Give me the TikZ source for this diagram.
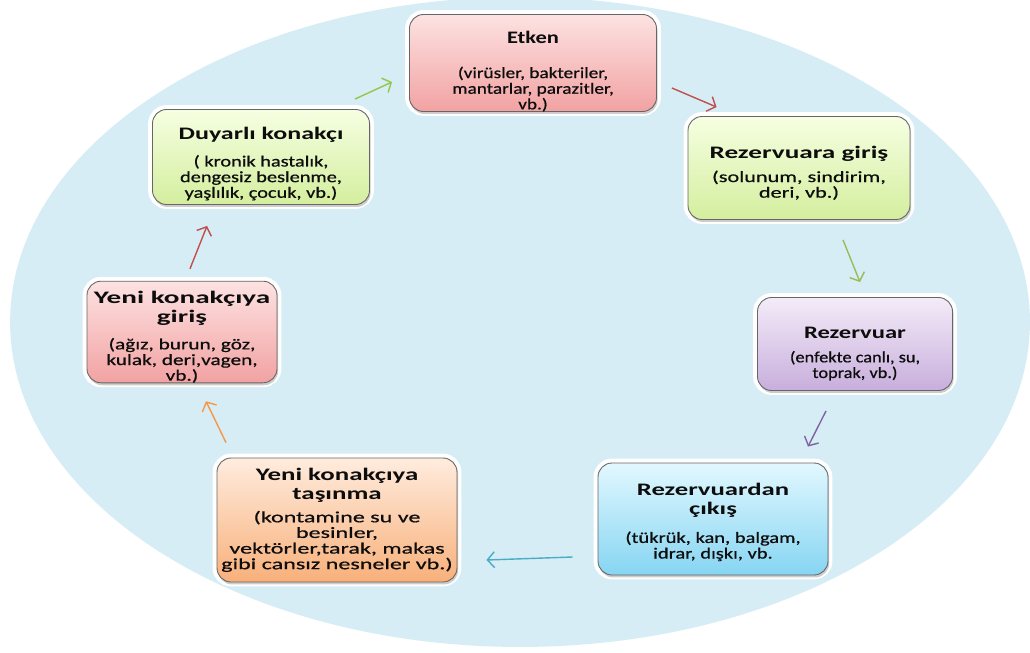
\documentclass[tikz,border=0pt]{standalone}
\usepackage{fontspec}
\setmainfont{Carlito}
\newfontfamily\bodyfont{Carlito}[FakeBold=0.7]
\usetikzlibrary{arrows.meta, shadows}

\definecolor{ovalblue}{HTML}{D7EDF6}
\definecolor{pinktop}{HTML}{FDE2E2}
\definecolor{pinkbot}{HTML}{F2A2A2}
\definecolor{greentop}{HTML}{F6FFE2}
\definecolor{greenbot}{HTML}{D4EE9E}
\definecolor{lilactop}{HTML}{F4ECF9}
\definecolor{lilacbot}{HTML}{C8AEDC}
\definecolor{bluetop}{HTML}{E2F8FF}
\definecolor{bluebot}{HTML}{86D5F2}
\definecolor{orangetop}{HTML}{FFECDE}
\definecolor{orangebot}{HTML}{F8B07A}

\newcommand\titlestretch{1.3}
\newcommand\stagetitle{\normalfont\fontsize{10}{11.3}\selectfont\bfseries
    \addfontfeatures{FakeStretch=\titlestretch}}

\begin{document}
\begin{tikzpicture}[x=0.02cm, y=-0.02cm,
    stage/.style 2 args={rounded corners=8pt, draw=black!60, line width=0.5pt,
        align=center, inner sep=0pt, text=black!95,
        font=\renewcommand\titlestretch{#1}\fontsize{8.9}{8.9}\bodyfont
            \addfontfeatures{FakeStretch=#2},
        preaction={draw=white, line width=5pt},
        drop shadow={shadow xshift=0.6pt, shadow yshift=-1.4pt, opacity=0.4}},
    arr/.style={-{Straight Barb[length=4pt, width=9pt]}, line width=0.8pt}]

    % Page and the blue oval
    \path[use as bounding box] (0,0) rectangle (1030,652);
    \clip (0,0) rectangle (1030,652);
    \fill[white] (0,0) rectangle (1030,652);
    \fill[ovalblue] (520,322) ellipse [x radius=10.2cm, y radius=6.5cm];

    % The seven stages of the chain
    \node[stage={1.28}{1.23}, top color=pinktop, bottom color=pinkbot,
        minimum width=247*0.02cm, minimum height=90*0.02cm] (etken) at (533,63)
        {{\stagetitle\rule{0pt}{16.6pt}Etken}\\[10.7pt](virüsler, bakteriler,\\mantarlar, parazitler,\\vb.)};
    \node[stage={1.55}{1.42}, top color=greentop, bottom color=greenbot,
        minimum width=222*0.02cm, minimum height=103*0.02cm] (rezgiris) at (799,168)
        {{\stagetitle\rule{0pt}{12.7pt}Rezervuara giriş}\\[4.5pt](solunum, sindirim,\\deri, vb.)};
    \node[stage={1.4}{1.17}, top color=lilactop, bottom color=lilacbot,
        minimum width=195*0.02cm, minimum height=93*0.02cm] (rezervuar) at (855,344)
        {{\stagetitle\rule{0pt}{17.8pt}Rezervuar}\\[4.5pt](enfekte canlı, su,\\toprak, vb.)};
    \node[stage={1.52}{1.31}, top color=bluetop, bottom color=bluebot,
        minimum width=230*0.02cm, minimum height=112*0.02cm] (rezcikis) at (713,519)
        {{\stagetitle\rule{0pt}{10.4pt}Rezervuardan}\\[2pt]{\stagetitle çıkış}\\[7.4pt](tükrük, kan, balgam,\\idrar, dışkı, vb.};
    \node[stage={1.53}{1.54}, top color=orangetop, bottom color=orangebot,
        minimum width=240*0.02cm, minimum height=124*0.02cm] (tasinma) at (337,520)
        {{\stagetitle Yeni konakçıya}\\[2pt]{\stagetitle taşınma}\\[4pt](kontamine su ve\\besinler,\\vektörler,tarak, makas\\gibi cansız nesneler vb.)};
    \node[stage={1.66}{1.36}, top color=pinktop, bottom color=pinkbot,
        minimum width=190*0.02cm, minimum height=100*0.02cm] (yenigiris) at (182,332)
        {{\stagetitle\rule{0pt}{12.7pt}Yeni konakçıya}\\[2pt]{\stagetitle giriş}\\[6.3pt](ağız, burun, göz,\\kulak, deri,vagen,\\vb.)};
    \node[stage={1.48}{1.3}, top color=greentop, bottom color=greenbot,
        minimum width=217*0.02cm, minimum height=95*0.02cm] (duyarli) at (261,157)
        {{\stagetitle\rule{0pt}{14.9pt}Duyarlı konakçı}\\[6.3pt]( kronik hastalık,\\dengesiz beslenme,\\yaşlılık, çocuk, vb.)};

    % Arrows round the oval
    \draw[arr, draw={rgb,255:red,146;green,200;blue,74}]
        ([shift={(-15,-10)}]duyarli.north east) -- ([shift={(-17,19)}]etken.west);
    \draw[arr, draw={rgb,255:red,192;green,80;blue,77}]
        ([shift={(15,25)}]etken.east) -- ([shift={(29,-9)}]rezgiris.north west);
    \draw[arr, draw={rgb,255:red,155;green,187;blue,89}]
        ([shift={(44,20)}]rezgiris.south) -- ([shift={(5,-15)}]rezervuar.north);
    \draw[arr, draw={rgb,255:red,128;green,100;blue,162}]
        ([shift={(-29,20)}]rezervuar.south) -- ([shift={(95,-16)}]rezcikis.north);
    \draw[arr, draw={rgb,255:red,75;green,172;blue,198}]
        ([shift={(-25,38)}]rezcikis.west) -- ([shift={(29,40)}]tasinma.east);
    \draw[arr, draw={rgb,255:red,247;green,150;blue,70}]
        ([shift={(-111,-15)}]tasinma.north) -- ([shift={(24,18)}]yenigiris.south);
    \draw[arr, draw={rgb,255:red,192;green,80;blue,77}]
        ([shift={(8,-12)}]yenigiris.north) -- ([shift={(-54,21)}]duyarli.south);

\end{tikzpicture}
\end{document}
